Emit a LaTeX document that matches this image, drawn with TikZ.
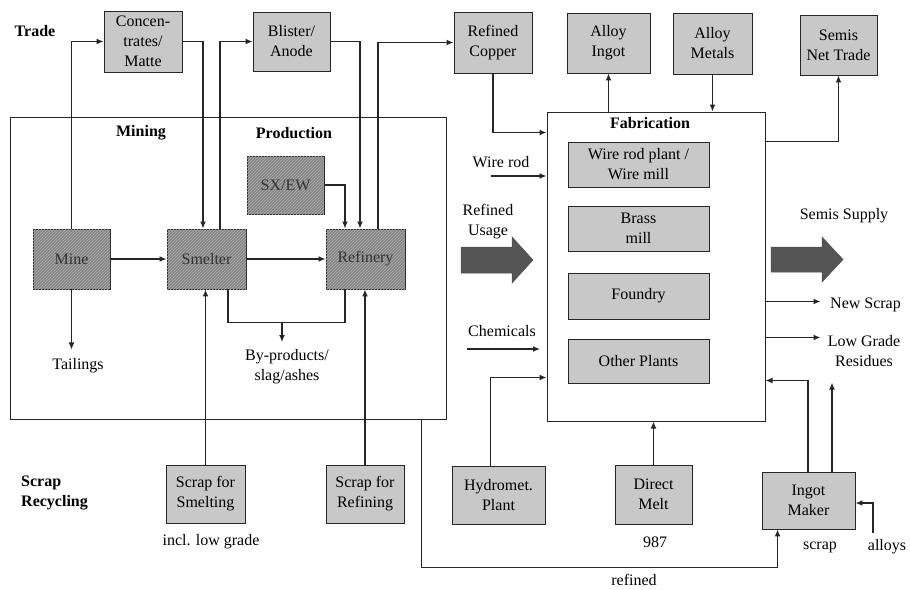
\documentclass[tikz,border=0pt]{standalone}
\usepackage{fontspec}
\setmainfont{Liberation Serif}
\usetikzlibrary{arrows.meta,patterns}
\definecolor{lfill}{RGB}{200,200,200}
\definecolor{dfill}{RGB}{132,132,132}
\definecolor{hatchc}{RGB}{178,178,178}
\definecolor{bigarrow}{RGB}{85,85,85}
\begin{document}
\begin{tikzpicture}[x=1pt,y=-1pt,
  font=\fontsize{16}{20}\selectfont,
  lbox/.style={draw=black!85, line width=0.9pt, fill=lfill, align=center, inner sep=1pt},
  dbox/.style={draw=black!85, line width=0.9pt, fill=dfill,
    postaction={pattern=north east lines, pattern color=hatchc},
    align=center, text=black!80, inner sep=1pt},
  hd/.style={font=\fontsize{16}{20}\selectfont\bfseries, inner sep=0pt},
  lbl/.style={align=center, inner sep=0pt},
  arr/.style={-{Latex[length=7pt,width=6pt]}, line width=1.3pt, draw=black!85},
  ln/.style={line width=1.3pt, draw=black!85},
  fat/.style={fill=bigarrow, draw=black!70, line width=0.5pt}]
\useasboundingbox (0,0) rectangle (910,589);

% frames
\node[draw=black!85, line width=1pt, minimum width=436pt, minimum height=302pt, inner sep=0pt] (big) at (228,268) {};
\node[draw=black!85, line width=1pt, fill=white, minimum width=218pt, minimum height=309pt, inner sep=0pt] (fab) at (656,266.5) {};

% trade boxes
\node[lbox, minimum width=78pt, minimum height=61pt] (conc) at (143,41.5) {Concen-\\trates/\\Matte};
\node[lbox, minimum width=77pt, minimum height=59pt] (blis) at (291.5,41.5) {Blister/\\Anode};
\node[lbox, minimum width=78pt, minimum height=61pt] (refc) at (493,42.5) {Refined\\Copper};
\node[lbox, minimum width=83pt, minimum height=60pt] (alin) at (608.5,43) {Alloy\\Ingot};
\node[lbox, minimum width=79pt, minimum height=61pt] (alme) at (712.5,43.5) {Alloy\\Metals};
\node[lbox, minimum width=77pt, minimum height=60pt] (semt) at (838.5,45) {Semis\\Net Trade};

% production
\node[dbox, minimum width=77pt, minimum height=58pt] (sxew) at (285.5,185) {SX/EW};
\node[dbox, minimum width=77pt, minimum height=60pt] (mine) at (71.5,259) {Mine};
\node[dbox, minimum width=79pt, minimum height=60pt] (smel) at (206.5,259) {Smelter};
\node[dbox, minimum width=79pt, minimum height=60pt] (refy) at (365.5,259) {Refinery};

% scrap
\node[lbox, minimum width=79pt, minimum height=58pt] (ssm) at (205.5,494) {Scrap for\\Smelting};
\node[lbox, minimum width=78pt, minimum height=58pt] (srf) at (365,494) {Scrap for\\Refining};
\node[lbox, minimum width=93pt, minimum height=58pt] (hydro) at (498.5,495) {Hydromet.\\Plant};
\node[lbox, minimum width=77pt, minimum height=59pt] (dmelt) at (653.5,494.5) {Direct\\Melt};
\node[lbox, minimum width=93pt, minimum height=57pt] (ingot) at (808.5,500.5) {Ingot\\Maker};

% fabrication
\node[hd] (fabt) at (650,123) {Fabrication};
\node[lbox, minimum width=141pt, minimum height=45pt] (wire) at (638.5,164.5) {Wire rod plant /\\Wire mill};
\node[lbox, minimum width=141pt, minimum height=45pt] (brass) at (638.5,228.5) {Brass\\mill};
\node[lbox, minimum width=141pt, minimum height=46pt] (found) at (638.5,296) {Foundry};
\node[lbox, minimum width=141pt, minimum height=44pt] (other) at (638.5,361) {Other Plants};

% labels
\node[hd] (trade) at (35,31) {Trade};
\node[hd] (mining) at (141,133) {Mining};
\node[hd] (prod) at (294,133) {Production};
\node[hd, align=left, anchor=west] (scrl) at (21,493) {Scrap\\Recycling};
\node[lbl] (tail) at (78,366) {Tailings};
\node[lbl] (bypr) at (287,367) {By-products/\\slag/ashes};
\node[lbl] (incl) at (211,542) {incl. low grade};
\node[lbl] (wrl) at (501,162) {Wire rod};
\node[lbl] (rul) at (488,222) {Refined\\Usage};
\node[lbl] (chl) at (502,331) {Chemicals};
\node[lbl] (ssl) at (844,216) {Semis Supply};
\node[lbl, anchor=west] (nsl) at (830,305) {New Scrap};
\node[lbl] (lgl) at (864,351) {Low Grade\\Residues};
\node[lbl] (n987) at (655,542) {987};
\node[lbl] (scl) at (820,547) {scrap};
\node[lbl] (all) at (887,547) {alloys};
\node[lbl] (rfl) at (634,580) {refined};

% big arrows
\fill[fat] (461,247) -- (512,247) -- (512,237) -- (533,260) -- (512,283) -- (512,273) -- (461,273) -- cycle;
\fill[fat] (771,247) -- (822,247) -- (822,237) -- (843,259.5) -- (822,282) -- (822,272) -- (771,272) -- cycle;

% connectors: mining / production
\draw[arr] (mine.north) |- (conc.west);
\draw[arr] (conc.east) -| ([xshift=-3.5pt]smel.north);
\draw[arr] ([xshift=13.5pt]smel.north) |- (blis.west);
\draw[arr] (blis.east) -| ([xshift=-5.5pt]refy.north);
\draw[arr] (sxew.east) -| ([xshift=-20.5pt]refy.north);
\draw[arr] ([xshift=12.5pt]refy.north) |- (refc.west);
\draw[arr] (refc.south) |- ([yshift=-21pt]fab.north west);
\draw[arr] (mine) -- (smel);
\draw[arr] (smel) -- (refy);
\draw[arr] (mine.south) -- ++(0,60);
\draw[ln] ([xshift=21.5pt]smel.south) |- ([xshift=-20.5pt,yshift=-33pt]refy.south) -- ([xshift=-20.5pt]refy.south);
\coordinate (bp) at (282,322);
\draw[arr] (bp) -- ++(0,20);
\draw[arr] (ssm.north) -- (ssm.north |- smel.south);
\draw[arr] (srf.north) -- (srf.north |- refy.south);
\draw[arr] ([xshift=412pt]big.south west) -- ++(0,148) -| ([xshift=16pt]ingot.south west);

% connectors: fabrication
\draw[arr] (alin.south |- fab.north) -- (alin.south);
\draw[arr] (alme.south) -- (alme.south |- fab.north);
\draw[arr] ([yshift=-30pt]fab.north east) -| (semt.south);
\coordinate (wr) at (491,176);
\draw[arr] (wr) -- (wr -| fab.west);
\coordinate (ch) at (467,349);
\draw[arr] (ch) -- ++(73,0);
\draw[arr] ([xshift=-8pt]hydro.north) |- ([yshift=-266pt]fab.north west);
\draw[arr] (dmelt.north) -- (dmelt.north |- fab.south);
\draw[arr] ([xshift=-0.5pt]ingot.north) |- ([yshift=-269pt]fab.north east);
\draw[arr] ([xshift=23.5pt]ingot.north) -- ++(0,-89);
\draw[arr] ([yshift=-190pt]fab.north east) -- ++(55,0);
\draw[arr] ([yshift=-226pt]fab.north east) -- ++(55,0);
\coordinate (al) at (873,533);
\draw[arr] (al) |- ([yshift=-2.5pt]ingot.east);
\end{tikzpicture}
\end{document}
